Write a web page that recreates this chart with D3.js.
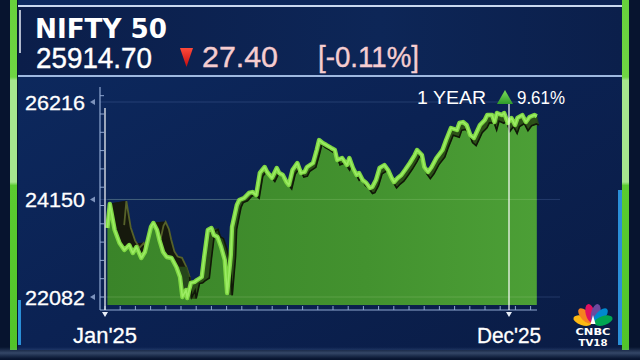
<!DOCTYPE html>
<html><head><meta charset="utf-8">
<script src="https://cdn.jsdelivr.net/npm/d3@7"></script>
<style>html,body{margin:0;padding:0;background:#07142f;overflow:hidden}</style>
</head><body><svg id="c" width="640" height="360"></svg>
<script>
// ---------- data ----------
const indexName = "NIFTY 50";
const lastPrice = "25914.70";
const changeText = "27.40";
const changePctText = "[-0.11%]";
const periodLabel = "1 YEAR";
const periodChange = "9.61%";
const dates = ["2025-01-03","2025-01-05","2025-01-09","2025-01-13","2025-01-17","2025-01-21","2025-01-24","2025-01-27","2025-01-31","2025-02-03","2025-02-05","2025-02-08","2025-02-10","2025-02-13","2025-02-15","2025-02-18","2025-02-21","2025-02-25","2025-03-01","2025-03-04","2025-03-06","2025-03-09","2025-03-10","2025-03-13","2025-03-16","2025-03-18","2025-03-22","2025-03-24","2025-03-27","2025-03-30","2025-04-01","2025-04-04","2025-04-07","2025-04-10","2025-04-12","2025-04-15","2025-04-16","2025-04-20","2025-04-22","2025-04-26","2025-04-30","2025-05-03","2025-05-06","2025-05-09","2025-05-13","2025-05-15","2025-05-19","2025-05-23","2025-05-25","2025-05-28","2025-05-31","2025-06-02","2025-06-05","2025-06-09","2025-06-12","2025-06-15","2025-06-17","2025-06-22","2025-06-25","2025-06-27","2025-06-30","2025-07-03","2025-07-07","2025-07-10","2025-07-12","2025-07-16","2025-07-20","2025-07-22","2025-07-25","2025-07-28","2025-07-30","2025-08-02","2025-08-05","2025-08-08","2025-08-10","2025-08-13","2025-08-16","2025-08-20","2025-08-23","2025-08-26","2025-08-28","2025-08-31","2025-09-03","2025-09-06","2025-09-10","2025-09-14","2025-09-16","2025-09-20","2025-09-22","2025-09-25","2025-09-28","2025-10-02","2025-10-07","2025-10-10","2025-10-14","2025-10-19","2025-10-21","2025-10-24","2025-10-27","2025-10-30","2025-11-02","2025-11-07","2025-11-11","2025-11-13","2025-11-17","2025-11-19","2025-11-21","2025-11-25","2025-11-27","2025-11-30","2025-12-03","2025-12-06","2025-12-08","2025-12-12","2025-12-15","2025-12-18","2025-12-22","2025-12-24"];
const values = [23545,24054,23502,23227,23078,23184,23015,23142,22909,23036,23248,23566,23651,23502,23290,23036,22930,22909,22718,22506,22082,22230,22061,22379,22400,22442,22506,22930,23502,23545,23396,23354,23142,22866,22167,22972,23566,24032,24138,24181,24287,24308,24244,24711,24838,24732,24605,24817,24711,24668,24520,24456,24774,24923,24711,24732,24838,24923,25198,25410,25347,25304,25241,25198,24986,25029,24880,25029,24817,24668,24711,24562,24499,24393,24414,24562,24817,24880,24774,24605,24520,24605,24668,24774,24923,25092,25198,25092,24838,24732,24838,25029,25198,25410,25665,25622,25771,25792,25728,25516,25453,25728,25834,25940,25940,25792,25983,25940,25983,25771,25877,25728,25877,25940,25792,25898,25940,25915];
const yTicks = [22082, 24150, 26216];
const xTickDates = ["2025-01-01","2025-12-01"];
const xTickLabels = ["Jan'25","Dec'25"];

// ---------- setup ----------
const svg = d3.select("#c");
const defs = svg.append("defs");
const parse = d3.timeParse("%Y-%m-%d");
const data = dates.map((d,i)=>({date:parse(d), value:values[i]}));

const x = d3.scaleTime().domain([parse(xTickDates[0]), parse(xTickDates[1])]).range([105, 509]);
const y = d3.scaleLinear().domain([yTicks[0], yTicks[2]]).range([297, 102]);
const baseY = 305;

function lg(id, x1,y1,x2,y2, stops){
  const g = defs.append("linearGradient").attr("id",id)
    .attr("x1",x1).attr("y1",y1).attr("x2",x2).attr("y2",y2);
  stops.forEach(s=>g.append("stop").attr("offset",s[0]).attr("stop-color",s[1]).attr("stop-opacity", s[2]==null?1:s[2]));
}
lg("bg","0","0","1","1",[[0,"#0d2a60"],[0.5,"#0b2253"],[1,"#0a1c45"]]);
lg("hdr","0","0","1","0",[[0,"#0b1e4a"],[0.6,"#0d2657"],[1,"#0b1f4b"]]);
lg("fill","0","0","1","0",[[0,"#3a8429"],[0.6,"#43922f"],[1,"#4c9f36"]]);
lg("redtri","0","0","0","1",[[0,"#ff4a3a"],[1,"#c40d10"]]);
lg("grntri","0","0","0","1",[[0,"#7ee05a"],[1,"#2e9a2a"]]);
lg("glow","0","0","0","1",[[0,"#6f8fc0",0],[0.5,"#8aa6d0",0.35],[1,"#6f8fc0",0]]);
lg("barL","0","0","0","1",[[0,"#67d13c"],[0.22,"#6fd543"],[0.23,"#a6e68e"],[0.52,"#a6e68e"],[0.53,"#5acb30"],[1,"#52c42a"]]);

// background
svg.append("rect").attr("width",640).attr("height",360).attr("fill","#07142f");
svg.append("rect").attr("x",18).attr("y",0).attr("width",604).attr("height",350).attr("fill","url(#bg)");
// header
svg.append("rect").attr("x",18).attr("y",7).attr("width",604).attr("height",68).attr("fill","url(#hdr)");
svg.append("line").attr("x1",18).attr("x2",622).attr("y1",6).attr("y2",6).attr("stroke","#c9d8ef").attr("stroke-width",2);
svg.append("line").attr("x1",18).attr("x2",622).attr("y1",76).attr("y2",76).attr("stroke","#9fb9e0").attr("stroke-width",2);
svg.append("line").attr("x1",20).attr("x2",20).attr("y1",10).attr("y2",53).attr("stroke","#e8eef8").attr("stroke-width",1.5);

// side bars
svg.append("rect").attr("x",10).attr("y",0).attr("width",7).attr("height",350).attr("fill","url(#barL)");
svg.append("rect").attr("x",622).attr("y",0).attr("width",7).attr("height",350).attr("fill","url(#barL)");
svg.append("rect").attr("x",618).attr("y",190).attr("width",4).attr("height",155).attr("fill","#2a8fd8");
svg.append("rect").attr("x",18).attr("y",300).attr("width",3).attr("height",45).attr("fill","#2a8fd8");
svg.append("rect").attr("x",0).attr("y",347).attr("width",640).attr("height",12).attr("fill","url(#glow)");

// header texts
svg.append("text").attr("x",35).attr("y",38).text(indexName)
  .attr("font-family","DejaVu Sans").attr("font-weight","bold").attr("font-size",26).attr("fill","#ffffff")
  .attr("textLength",132).attr("lengthAdjust","spacingAndGlyphs");
svg.append("text").attr("x",36).attr("y",68).text(lastPrice)
  .attr("font-family","Liberation Sans, Arial").attr("font-size",29).attr("fill","#ffffff")
  .attr("stroke","#ffffff").attr("stroke-width",0.4)
  .attr("textLength",116).attr("lengthAdjust","spacingAndGlyphs");
svg.append("path").attr("d","M180,48 L193,48 L186.5,67 Z").attr("fill","url(#redtri)");
svg.append("text").attr("x",202).attr("y",67).text(changeText)
  .attr("font-family","Liberation Sans, Arial").attr("font-size",29).attr("fill","#f6cdd0")
  .attr("stroke","#f6cdd0").attr("stroke-width",0.4)
  .attr("textLength",76).attr("lengthAdjust","spacingAndGlyphs");
svg.append("text").attr("x",318).attr("y",67).text(changePctText)
  .attr("font-family","Liberation Sans, Arial").attr("font-size",29).attr("fill","#f6cdd0")
  .attr("stroke","#f6cdd0").attr("stroke-width",0.4)
  .attr("textLength",101).attr("lengthAdjust","spacingAndGlyphs");

// gridlines (behind)
svg.append("g").selectAll("line").data(yTicks).join("line")
  .attr("x1",100).attr("x2",560).attr("y1",d=>y(d)).attr("y2",d=>y(d))
  .attr("stroke","#7f9fd6").attr("stroke-opacity",0.22).attr("stroke-width",1);

// 3D ribbon geometry (offset derived from scaled positions)
const pts = data.map(d=>[x(d.date), y(d.value)]);
const x0 = 105, x1 = 540;
function off(p){
  const t = Math.max(0, Math.min(1,(p[0]-x0)/(x1-x0)));
  let dx, dy;
  if (t < 0.33){ const u=t/0.33; dx = 17 - 14*u; dy = -3 + 6*u; }
  else { const u=(t-0.33)/0.67; dx = 3 - 1*u; dy = 3 + 6*u; }
  return [p[0]+dx, p[1]+dy, dy];
}
const spts = pts.map(off);
const quads = d3.range(pts.length-1).map(i=>({i, p0:pts[i], p1:pts[i+1], s0:spts[i], s1:spts[i+1], front:(spts[i][2]+spts[i+1][2])/2>0}));
const quadPath = q => "M"+q.p0[0]+","+q.p0[1]+"L"+q.p1[0]+","+q.p1[1]+"L"+q.s1[0]+","+q.s1[1]+"L"+q.s0[0]+","+q.s0[1]+"Z";

// back faces
svg.append("g").selectAll("path").data(quads.filter(q=>!q.front)).join("path")
  .attr("d",quadPath).attr("fill","#16190d").attr("stroke","#16190d").attr("stroke-width",0.8);
svg.append("path").datum(spts.filter(s=>s[2]<=0.5))
  .attr("d", d3.line().x(s=>s[0]).y(s=>s[1]))
  .attr("fill","none").attr("stroke","#56622a").attr("stroke-width",1.8);

// area fill
const area = d3.area().x(d=>x(d.date)).y0(baseY).y1(d=>y(d.value));
svg.append("path").datum(data).attr("d",area).attr("fill","url(#fill)");

// gridlines over fill
svg.append("g").selectAll("line").data(yTicks.slice(0,2)).join("line")
  .attr("x1",x(data[0].date)).attr("x2",x(data[data.length-1].date)).attr("y1",d=>y(d)).attr("y2",d=>y(d))
  .attr("stroke","#b8e0a0").attr("stroke-opacity",0.22);

// front faces
svg.append("g").selectAll("path").data(quads.filter(q=>q.front)).join("path")
  .attr("d",quadPath).attr("fill","#2a4a16").attr("stroke","#2a4a16").attr("stroke-width",0.6).attr("opacity",0.9);
svg.append("path").datum(spts.filter(s=>s[2]>0))
  .attr("d", d3.line().x(s=>s[0]).y(s=>s[1]))
  .attr("fill","none").attr("stroke","#101808").attr("stroke-width",1.6);

// main line
const line = d3.line().x(d=>x(d.date)).y(d=>y(d.value));
svg.append("path").datum(data).attr("d",line).attr("fill","none")
  .attr("stroke","#7fd844").attr("stroke-width",4.4).attr("stroke-linejoin","round");
svg.append("path").datum(data).attr("d",line).attr("fill","none")
  .attr("stroke","#9cec64").attr("stroke-width",1.6).attr("stroke-linejoin","round");

// axes
const axG = svg.append("g");
axG.append("line").attr("x1",100).attr("x2",100).attr("y1",87).attr("y2",310).attr("stroke","#90a8d2").attr("stroke-width",1.2);
axG.selectAll(".ym").data(d3.range(297, 90, -18.3)).join("line")
  .attr("x1",100).attr("x2",104).attr("y1",d=>d).attr("y2",d=>d).attr("stroke","#90a8d2").attr("stroke-width",1);
axG.append("line").attr("x1",100).attr("x2",537).attr("y1",310).attr("y2",310).attr("stroke","#90a8d2").attr("stroke-width",1.2);
axG.selectAll(".xm").data(d3.range(105, 537, 15.2)).join("line")
  .attr("x1",d=>d).attr("x2",d=>d).attr("y1",310).attr("y2",306).attr("stroke","#90a8d2").attr("stroke-width",1);

// y labels
svg.append("g").selectAll("text").data(yTicks).join("text")
  .attr("x",85).attr("y",d=>y(d)+7.5).attr("text-anchor","end")
  .attr("font-family","Liberation Sans, Arial").attr("font-size",20.5).attr("fill","#ffffff")
  .attr("stroke","#ffffff").attr("stroke-width",0.3)
  .attr("textLength",60).attr("lengthAdjust","spacingAndGlyphs").text(d=>d);
svg.append("g").selectAll("path").data(yTicks).join("path")
  .attr("d",d=>`M90,${y(d)} L95,${y(d)-3} L95,${y(d)+3} Z`).attr("fill","#7d93bd");

// x marker lines + labels
const xt = xTickDates.map((d,i)=>({date:parse(d), label:xTickLabels[i]}));
svg.append("g").selectAll("line").data(xt).join("line")
  .attr("x1",d=>x(d.date)).attr("x2",d=>x(d.date)).attr("y1",(d,i)=>i?100:108).attr("y2",310)
  .attr("stroke","#ffffff").attr("stroke-opacity",0.85).attr("stroke-width",1.4);
svg.append("g").selectAll("path").data(xt).join("path")
  .attr("d",d=>`M${x(d.date)-3},312 L${x(d.date)+3},312 L${x(d.date)},317 Z`).attr("fill","#e8eef8");
svg.append("g").selectAll("text").data(xt).join("text")
  .attr("x",d=>x(d.date)).attr("y",343).attr("text-anchor","middle")
  .attr("font-family","Liberation Sans, Arial").attr("font-size",22).attr("fill","#ffffff")
  .attr("stroke","#ffffff").attr("stroke-width",0.3)
  .attr("textLength",64).attr("lengthAdjust","spacingAndGlyphs").text(d=>d.label);

// period change
svg.append("text").attr("x",417).attr("y",104).text(periodLabel)
  .attr("font-family","Liberation Sans, Arial").attr("font-size",18).attr("fill","#ffffff")
  .attr("textLength",69).attr("lengthAdjust","spacingAndGlyphs");
svg.append("path").attr("d","M497,104 L513,104 L505,90 Z").attr("fill","url(#grntri)");
svg.append("text").attr("x",517).attr("y",104).text(periodChange)
  .attr("font-family","Liberation Sans, Arial").attr("font-size",18).attr("fill","#ffffff")
  .attr("textLength",48).attr("lengthAdjust","spacingAndGlyphs");

// logo
const logo = svg.append("g").attr("transform","translate(593,324)");
const feathers = ["#fdb913","#f58220","#e0115f","#6c4a9e","#0089cf","#00a651"];
logo.selectAll("ellipse").data(feathers).join("ellipse")
  .attr("cx",0).attr("cy",-11).attr("rx",4.6).attr("ry",9.5)
  .attr("transform",(d,i)=>`rotate(${-72+i*28.8})`).attr("fill",d=>d);
logo.append("path").attr("d","M-2.5,0 L0,-9 L2.5,0 Z").attr("fill","#ffffff");
svg.append("text").attr("x",593).attr("y",335).attr("text-anchor","middle").text("CNBC")
  .attr("font-family","DejaVu Sans").attr("font-weight","bold").attr("font-size",9.5).attr("fill","#ffffff")
  .attr("textLength",35).attr("lengthAdjust","spacingAndGlyphs");
svg.append("text").attr("x",593).attr("y",346).attr("text-anchor","middle").text("TV18")
  .attr("font-family","DejaVu Sans").attr("font-weight","bold").attr("font-size",9).attr("fill","#ffffff")
  .attr("textLength",29).attr("lengthAdjust","spacingAndGlyphs");
</script></body></html>
